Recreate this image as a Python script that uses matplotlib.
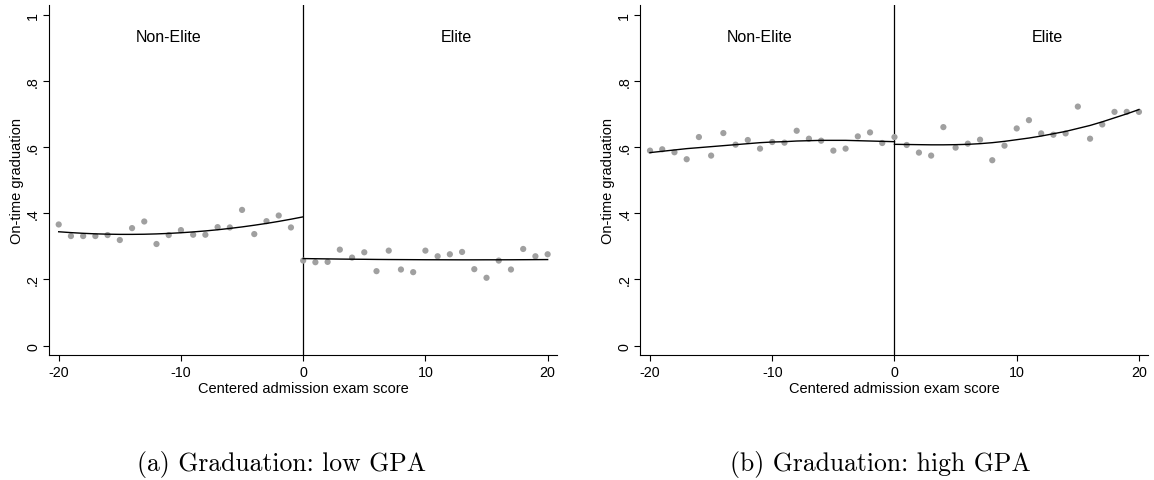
import numpy as np
import matplotlib
matplotlib.use("Agg")
import matplotlib.pyplot as plt

plt.rcParams["font.family"] = ["Liberation Sans", "DejaVu Sans"]

# Binned scores (centered admission exam score)
x_left = list(range(-20, 0))
x_right = list(range(0, 21))

# (a) low GPA: binned means
low_nonelite = [0.366, 0.331, 0.331, 0.331, 0.334, 0.319, 0.355, 0.375, 0.307, 0.334,
                0.349, 0.335, 0.335, 0.358, 0.357, 0.410, 0.337, 0.376, 0.393, 0.357]
low_elite = [0.257, 0.252, 0.253, 0.290, 0.266, 0.282, 0.225, 0.287, 0.230, 0.222, 0.287,
             0.270, 0.276, 0.283, 0.231, 0.205, 0.257, 0.230, 0.292, 0.270, 0.276]

# (a) low GPA: fitted lines
low_fit_nonelite = [0.344, 0.3414, 0.3393, 0.3377, 0.3367, 0.3361, 0.3361, 0.3365, 0.3375,
                    0.3390, 0.3410, 0.3435, 0.3465, 0.3500, 0.3541, 0.3586, 0.3637, 0.3692,
                    0.3753, 0.3819, 0.389]
low_fit_elite = [0.2630, 0.2625, 0.2620, 0.2615, 0.2611, 0.2608, 0.2604, 0.2601, 0.2599,
                 0.2597, 0.2595, 0.2594, 0.2593, 0.2592, 0.2592, 0.2593, 0.2593, 0.2594,
                 0.2596, 0.2598, 0.2600]

# (b) high GPA: binned means
high_nonelite = [0.589, 0.593, 0.584, 0.563, 0.630, 0.574, 0.642, 0.607, 0.621, 0.595,
                 0.615, 0.613, 0.649, 0.625, 0.619, 0.589, 0.595, 0.632, 0.644, 0.612]
high_elite = [0.630, 0.606, 0.583, 0.574, 0.660, 0.598, 0.610, 0.622, 0.560, 0.604, 0.656,
              0.681, 0.641, 0.637, 0.641, 0.722, 0.625, 0.668, 0.706, 0.706, 0.706]

# (b) high GPA: fitted lines
high_fit_nonelite = [0.583, 0.587, 0.591, 0.595, 0.598, 0.601, 0.604, 0.607, 0.610, 0.613,
                     0.615, 0.616, 0.618, 0.619, 0.620, 0.620, 0.620, 0.619, 0.618, 0.617,
                     0.616]
high_fit_elite = [0.608, 0.6075, 0.607, 0.6065, 0.6065, 0.607, 0.608, 0.610, 0.613, 0.617,
                  0.622, 0.627, 0.633, 0.640, 0.647, 0.656, 0.665, 0.676, 0.688, 0.700,
                  0.713]

captions = ["(a) Graduation: low GPA", "(b) Graduation: high GPA"]
yticks = [0, 0.2, 0.4, 0.6, 0.8, 1.0]
ytick_labels = ["0", ".2", ".4", ".6", ".8", "1"]
xticks = [-20, -10, 0, 10, 20]

fig = plt.figure(figsize=(11.54, 4.81), dpi=100)
ax1 = fig.add_axes([0.0425, 0.26, 0.44, 0.7277])
ax2 = fig.add_axes([0.5549, 0.26, 0.44, 0.7277])

panels = [
    (ax1, low_nonelite, low_elite, low_fit_nonelite, low_fit_elite),
    (ax2, high_nonelite, high_elite, high_fit_nonelite, high_fit_elite),
]

fit_x_left = list(range(-20, 1))
dot_color = "#a0a0a0"

for ax, ne, el, fne, fel in panels:
    ax.scatter(x_left, ne, s=20, color=dot_color, edgecolors="none", zorder=2)
    ax.scatter(x_right, el, s=20, color=dot_color, edgecolors="none", zorder=2)
    ax.plot(fit_x_left, fne, color="black", lw=1.0, zorder=3)
    ax.plot(x_right, fel, color="black", lw=1.0, zorder=3)
    ax.axvline(0, color="black", lw=0.9, zorder=1)

    ax.set_xlim(-20.79, 20.75)
    ax.set_ylim(-0.028, 1.029)
    ax.set_xticks(xticks)
    ax.set_xticklabels([str(t) for t in xticks])
    ax.set_yticks(yticks)
    ax.set_yticklabels(ytick_labels, rotation=90, va="center")
    ax.tick_params(axis="both", labelsize=10.3, length=4, width=0.8, pad=2.5)
    ax.tick_params(axis="x", pad=3.5)

    ax.spines["top"].set_visible(False)
    ax.spines["right"].set_visible(False)
    ax.spines["left"].set_linewidth(0.8)
    ax.spines["bottom"].set_linewidth(0.8)

    ax.set_xlabel("Centered admission exam score", fontsize=10.5, labelpad=1)
    ax.set_ylabel("On-time graduation", fontsize=10.5, labelpad=1.5)

    ax.text(-11, 0.935, "Non-Elite", ha="center", va="center", fontsize=11.5)
    ax.text(12.5, 0.935, "Elite", ha="center", va="center", fontsize=11.5)

fig.text(281.5 / 1154, 1 - 464 / 481, captions[0], ha="center", va="center",
         fontsize=18.5, family="cmr10")
fig.text(880.5 / 1154, 1 - 464 / 481, captions[1], ha="center", va="center",
         fontsize=18.5, family="cmr10")

fig.savefig("out.png", dpi=100)
